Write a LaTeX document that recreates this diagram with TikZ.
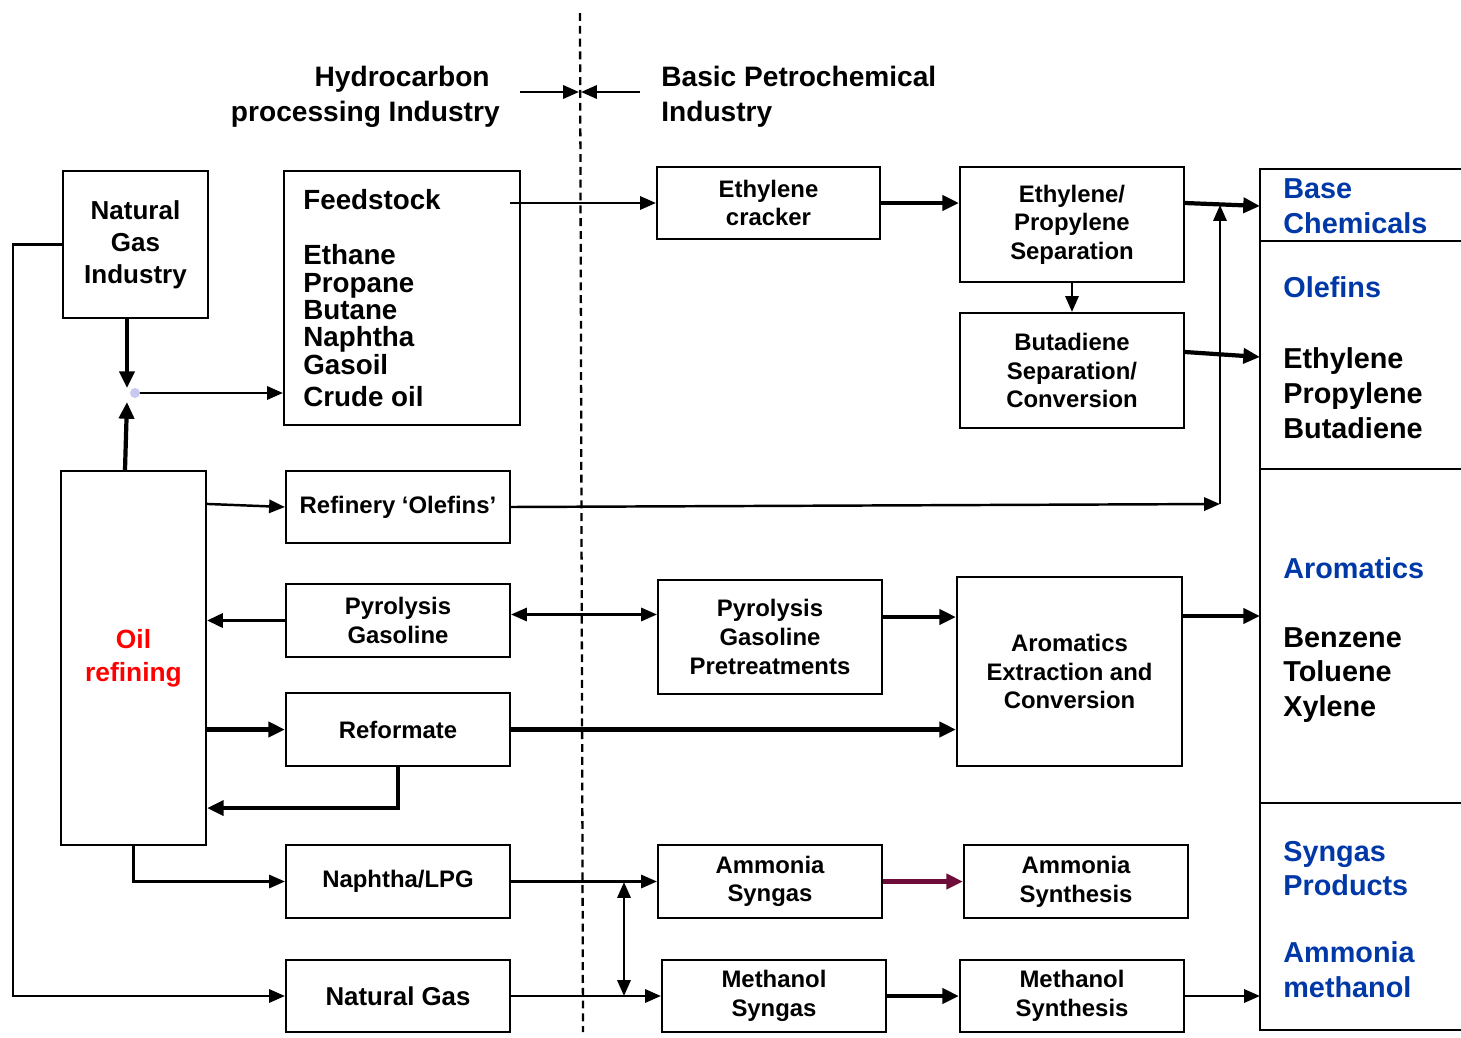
\documentclass[tikz,border=0pt]{standalone}
\usepackage{fontspec}
\setmainfont{Liberation Sans}
\usetikzlibrary{arrows.meta,calc}
\definecolor{headblue}{RGB}{0,56,168}
\definecolor{wine}{RGB}{110,13,58}
\definecolor{joint}{RGB}{200,200,240}

\begin{document}
\begin{tikzpicture}[x=0.02cm,y=-0.02cm,
  font=\bfseries,
  box/.style 2 args={draw,line width=1.2pt,minimum width=#1*0.02cm,minimum height=#2*0.02cm,
    inner sep=0pt,align=center,font=\fontsize{13.6}{16.3}\selectfont\bfseries},
  ln/.style={line width=1.3pt},
  fl/.style={line width=1.4pt,-{Triangle[length=9pt,width=7.5pt]}},
  medarrow/.style={line width=1.8pt,-{Triangle[length=9pt,width=8pt]}},
  fat/.style={line width=2.4pt,-{Triangle[length=9.5pt,width=8.5pt]}},
  dbl/.style={line width=1.4pt,{Triangle[length=9pt,width=7.5pt]}-{Triangle[length=9pt,width=7.5pt]}},
  coltxt/.style={anchor=west,align=left,inner sep=0pt,font=\fontsize{16.4}{19.8}\selectfont\bfseries},
  headtxt/.style={inner sep=0pt,font=\fontsize{16}{19.8}\selectfont\bfseries}
]
\fill[white] (0,0) rectangle (1461,1038);
\useasboundingbox (0,0) rectangle (1461,1038);

% section headings and the divider between them
\node[headtxt,anchor=east,align=right] (hleft) at (500,96.5) {Hydrocarbon\hspace*{5.7pt}\\processing Industry};
\node[headtxt,anchor=west,align=left] (hright) at (661,96.5) {Basic Petrochemical\\Industry};
\coordinate (divtop) at (580,13);
\coordinate (divbot) at (583,1032);
\draw[ln,dash pattern=on 4.5pt off 2.8pt] (divtop) -- (divbot);
\coordinate (hl) at (520,92);
\coordinate (hlt) at (579,92);
\coordinate (hr) at (640,92);
\coordinate (hrt) at (581,92);
\draw[fl] (hl) -- (hlt);
\draw[fl] (hr) -- (hrt);

% hydrocarbon processing side
\node[box={145}{147},font=\fontsize{14.8}{18.1}\selectfont\bfseries] (ngi) at (135.5,244.5) {Natural\\Gas\\Industry};
\node[box={236}{254}] (feed) at (402,298) {};
\node[anchor=west,align=left,inner sep=0pt,font=\fontsize{15.8}{15.6}\selectfont\bfseries] (feedlist) at (303,298)
  {Feedstock\\[15.6pt]Ethane\\Propane\\Butane\\Naphtha\\Gasoil\\[2.5pt]Crude oil};
\node[box={145}{374},text=red,font=\fontsize{15}{18.7}\selectfont\bfseries] (oil) at (133.5,658) {Oil\\refining};
\node[box={224}{72}] (refol) at (398,507) {Refinery ‘Olefins’};
\node[box={224}{73}] (pyg) at (398,620.5) {Pyrolysis\\Gasoline};
\node[box={224}{73}] (refm) at (398,729.5) {Reformate};
\node[box={224}{73}] (nlpg) at (398,881.5) {Naphtha/LPG};
\node[box={224}{72},font=\fontsize{14.7}{17}\selectfont\bfseries] (ngas) at (398,996) {Natural Gas};

% basic petrochemical side
\node[box={223}{72}] (crk) at (768.5,203) {Ethylene\\cracker};
\node[box={224}{115}] (eps) at (1072,224.5) {Ethylene/\\Propylene\\Separation};
\node[box={224}{115}] (bds) at (1072,370.5) {Butadiene\\Separation/\\Conversion};
\node[box={224}{114}] (pgp) at (770,637) {Pyrolysis\\Gasoline\\Pretreatments};
\node[box={225}{189}] (aro) at (1069.5,671.5) {Aromatics\\Extraction and\\Conversion};
\node[box={224}{73}] (ams) at (770,881.5) {Ammonia\\Syngas};
\node[box={224}{73}] (amsy) at (1076,881.5) {Ammonia\\Synthesis};
\node[box={224}{72}] (mes) at (774,996) {Methanol\\Syngas};
\node[box={224}{72}] (mesy) at (1072,996) {Methanol\\Synthesis};

% product column on the right
\draw[ln] (1461,169) -- (1260,169) -- (1260,1030) -- (1461,1030);
\foreach \yy in {241,469,803} \draw[ln] (1260,\yy) -- (1461,\yy);
\node[coltxt,text=headblue] (cbase) at (1283,206.5) {Base\\Chemicals};
\node[coltxt,text=headblue] (colef) at (1283,287) {Olefins};
\node[coltxt] (colist) at (1283,393) {Ethylene\\Propylene\\Butadiene};
\node[coltxt,text=headblue] (caro) at (1283,568) {Aromatics};
\node[coltxt] (calist) at (1283,675) {Benzene\\Toluene\\Xylene};
\node[coltxt,text=headblue] (csyn) at (1283,868.5) {Syngas\\Products};
\node[coltxt,text=headblue] (cam) at (1283,969.5) {Ammonia\\methanol};
\coordinate (inBase) at (1260,206);
\coordinate (inOlef) at (1260,357);
\coordinate (inAro) at (1260,616);
\coordinate (inSyn) at (1260,996);

% feed streams
\coordinate (jn) at (135,393);
\draw[fat] ($(ngi.south)+(-8.5,0)$) -- ($(jn)+(-8,-5)$);
\draw[fat] ($(oil.north)+(-8.5,0)$) -- ($(jn)+(-8,9)$);
\draw[fl] (jn) -- (jn -| feed.west);
\fill[joint] (jn) circle[radius=0.1cm];
\coordinate (fsout) at (510,203);
\draw[fl] (fsout) -- (crk.west);
\draw[fat] (crk.east) -- (crk.east -| eps.west);
\draw[fl] (eps.south) -- (bds.north);
\draw[fat] (eps.east |- crk.east) -- (inBase);
\coordinate (bdso) at ($(bds.east)+(0,-18.5)$);
\draw[fat] (bdso) -- (inOlef);

% refinery olefins loop up to the base chemicals
\coordinate (oilo) at ($(oil.north east)+(0,34)$);
\draw[fl] (oilo) -- (refol.west);
\coordinate (jr) at (1220,504);
\coordinate (jt) at (1220,205);
\draw[fl] (refol.east) -- (jr);
\draw[fl] (jr) -- (jt);

% aromatics chain
\draw[medarrow] (pyg.west) -- (pyg.west -| oil.east);
\coordinate (pgo) at ($(pyg.east)+(0,-6)$);
\draw[dbl] (pgo) -- (pgo -| pgp.west);
\coordinate (pgpo) at ($(pgp.east)+(0,-20)$);
\draw[fat] (pgpo) -- (pgpo -| aro.west);
\draw[fat] (refm.west -| oil.east) -- (refm.west);
\draw[fat] (refm.east) -- (refm.east -| aro.west);
\coordinate (rback) at ($(oil.south east)+(0,-38)$);
\draw[fat] (refm.south) |- (rback);
\coordinate (aroo) at ($(aro.east)+(0,-55.5)$);
\draw[fat] (aroo) -- (inAro);

% syngas chain
\draw[fl] (oil.south) |- (nlpg.west);
\draw[fl] (ngi.west) -- ++(-49,0) |- (ngas.west);
\draw[fl] (nlpg.east) -- (ams.west);
\draw[fl] (ngas.east) -- (mes.west);
\coordinate (va) at (624,882);
\coordinate (vb) at (624,996);
\draw[dbl] (va) -- (vb);
\draw[fat,wine] (ams.east) -- (amsy.west);
\draw[fat] (mes.east) -- (mesy.west);
\draw[fl] (mesy.east) -- (inSyn);
\end{tikzpicture}
\end{document}
